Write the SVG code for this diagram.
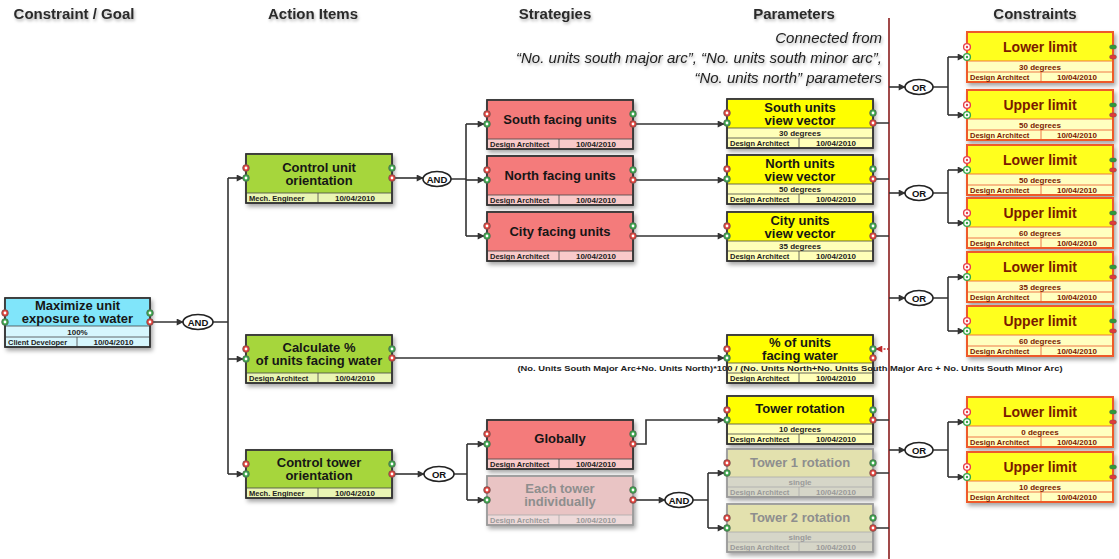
<svg xmlns="http://www.w3.org/2000/svg" xmlns:xlink="http://www.w3.org/1999/xlink" width="1119" height="559" viewBox="0 0 1119 559">
  <defs>
    <style>
      text { font-family: "Liberation Sans", Arial, sans-serif; }
      .hdr { font-size: 15px; font-weight: bold; fill: #2a2a2a; text-anchor: middle; }
      .note { font-size: 15px; font-style: italic; fill: #222; text-anchor: end; }
      .t { font-size: 13px; font-weight: bold; fill: #161616; text-anchor: middle; }
      .tc { font-size: 14px; font-weight: bold; fill: #7a1a00; text-anchor: middle; }
      .v { font-size: 8px; font-weight: bold; fill: #222; text-anchor: middle; }
      .vc { font-size: 8px; font-weight: bold; fill: #7a1a00; text-anchor: middle; }
      .r { font-size: 7.5px; font-weight: bold; fill: #222; }
      .rc { font-size: 7.5px; font-weight: bold; fill: #7a1a00; }
      .d { font-size: 8px; font-weight: bold; fill: #222; text-anchor: middle; }
      .dc { font-size: 8px; font-weight: bold; fill: #7a1a00; text-anchor: middle; }
      .box { stroke: #333; stroke-width: 1.5; }
      .sep { stroke: #444; stroke-width: 0.8; fill: none; }
      .cbox { stroke: #ee5a2a; stroke-width: 2; }
      .csep { stroke: #ee6a3a; stroke-width: 0.9; fill: none; }
      .conn { fill: none; stroke: #333; stroke-width: 1.6; }
      .gate ellipse { fill: #fff; stroke: #222; stroke-width: 1.6; }
      .gate text { font-size: 9.5px; font-weight: bold; fill: #111; text-anchor: middle; }
      .faded .t { fill: #8e8e8e; }
      .faded .r, .faded .d, .faded .v { fill: #9a9a9a; }
      .faded .box { stroke: #9a9a9a; }
      .faded .sep { stroke: #aaa; }
    </style>
    <filter id="sh" x="-10%" y="-10%" width="125%" height="135%">
      <feDropShadow dx="2" dy="3" stdDeviation="2" flood-color="#000" flood-opacity="0.35"/>
    </filter>
    <filter id="tsh" x="-5%" y="-20%" width="110%" height="160%">
      <feDropShadow dx="1" dy="2" stdDeviation="1.5" flood-color="#000" flood-opacity="0.3"/>
    </filter>
    <marker id="ah" viewBox="0 0 10 10" refX="9" refY="5" markerWidth="8" markerHeight="7" markerUnits="userSpaceOnUse" orient="auto">
      <path d="M0,0 L10,5 L0,10 z" fill="#333"/>
    </marker>
    <marker id="ahr" viewBox="0 0 10 10" refX="9" refY="5" markerWidth="8" markerHeight="7" markerUnits="userSpaceOnUse" orient="auto">
      <path d="M0,0 L10,5 L0,10 z" fill="#c0282a"/>
    </marker>
    <g id="pr"><circle r="3.4" fill="#e0403a" stroke="#555" stroke-width="0.6"/><circle r="1.4" fill="#fff"/></g>
    <g id="pg"><circle r="3.4" fill="#3aa64a" stroke="#555" stroke-width="0.6"/><circle r="1.4" fill="#fff"/></g>
    <g id="cpr"><circle r="3.4" fill="#fff" stroke="#e8404a" stroke-width="1.4"/><circle r="1.2" fill="#e8404a"/></g>
    <g id="cpg"><circle r="3.4" fill="#fff" stroke="#3aa64a" stroke-width="1.4"/><circle r="1.2" fill="#3aa64a"/></g>
    <rect id="pillg" x="-3.5" y="-2" width="7" height="4" rx="2" fill="#2e9a3a" stroke="#555" stroke-width="0.4"/>
    <rect id="pillr" x="-3.5" y="-2" width="7" height="4" rx="2" fill="#e03a3a" stroke="#555" stroke-width="0.4"/>
  </defs>

  <rect width="1119" height="559" fill="#fff"/>

  <!-- column headings -->
  <g id="headings" filter="url(#tsh)">
    <text class="hdr" x="74" y="19">Constraint / Goal</text>
    <text class="hdr" x="313" y="19">Action Items</text>
    <text class="hdr" x="555" y="19">Strategies</text>
    <text class="hdr" x="794" y="19">Parameters</text>
    <text class="hdr" x="1035" y="19">Constraints</text>
  </g>

  <g id="note" filter="url(#tsh)">
    <text class="note" x="882" y="43">Connected from</text>
    <text class="note" x="882" y="63">“No. units south major arc”, “No. units south minor arc”,</text>
    <text class="note" x="882" y="83">“No. units north” parameters</text>
  </g>

  <!-- connectors -->
  <g id="connectors">
    <line x1="889" y1="18" x2="889" y2="559" stroke="#8a1c1c" stroke-width="1.6"/>
    <path class="conn" d="M150,322 H183" marker-end="url(#ah)"/>
    <path class="conn" d="M213,322 H228 M228,178 V474"/>
    <path class="conn" d="M228,178 H243" marker-end="url(#ah)"/>
    <path class="conn" d="M228,359 H243" marker-end="url(#ah)"/>
    <path class="conn" d="M228,474 H243" marker-end="url(#ah)"/>
    <path class="conn" d="M392,178 H423" marker-end="url(#ah)"/>
    <path class="conn" d="M451,179 H466 M466,124 V236"/>
    <path class="conn" d="M466,124 H484" marker-end="url(#ah)"/>
    <path class="conn" d="M466,180 H484" marker-end="url(#ah)"/>
    <path class="conn" d="M466,236 H484" marker-end="url(#ah)"/>
    <path class="conn" d="M633,124 H724" marker-end="url(#ah)"/>
    <path class="conn" d="M633,180 H724" marker-end="url(#ah)"/>
    <path class="conn" d="M633,236 H724" marker-end="url(#ah)"/>
    <path class="conn" d="M392,358 H724" marker-end="url(#ah)"/>
    <path class="conn" d="M392,474 H424" marker-end="url(#ah)"/>
    <path class="conn" d="M454,474 H467 M467,444 V500"/>
    <path class="conn" d="M467,444 H484" marker-end="url(#ah)"/>
    <path class="conn" d="M467,500 H484" marker-end="url(#ah)"/>
    <path class="conn" d="M633,444 H646 V420 H724" marker-end="url(#ah)"/>
    <path class="conn" d="M633,500 H665" marker-end="url(#ah)"/>
    <path class="conn" d="M693,500 H708 M708,473 V528"/>
    <path class="conn" d="M708,473 H724" marker-end="url(#ah)"/>
    <path class="conn" d="M708,528 H724" marker-end="url(#ah)"/>
    <path class="conn" d="M873,123 H889 M873,179 H889 M873,236 H889 M873,420 H889"/>
    <path class="conn" d="M873,473 H889 M873,528 H889" stroke="#777"/>
    <path d="M889,349 H876" fill="none" stroke="#c0282a" stroke-width="1.4" stroke-dasharray="2,1.5" marker-end="url(#ahr)"/>
    <path class="conn" d="M889,87 H905" marker-end="url(#ah)"/>
    <path class="conn" d="M889,193 H905" marker-end="url(#ah)"/>
    <path class="conn" d="M889,298 H905" marker-end="url(#ah)"/>
    <path class="conn" d="M889,450 H905" marker-end="url(#ah)"/>
    <path class="conn" d="M933,87 H948 M948,57 V115"/>
    <path class="conn" d="M948,57 H964" marker-end="url(#ah)"/>
    <path class="conn" d="M948,115 H964" marker-end="url(#ah)"/>
    <path class="conn" d="M933,193 H948 M948,170 V223"/>
    <path class="conn" d="M948,170 H964" marker-end="url(#ah)"/>
    <path class="conn" d="M948,223 H964" marker-end="url(#ah)"/>
    <path class="conn" d="M933,298 H948 M948,277 V331"/>
    <path class="conn" d="M948,277 H964" marker-end="url(#ah)"/>
    <path class="conn" d="M948,331 H964" marker-end="url(#ah)"/>
    <path class="conn" d="M933,450 H948 M948,422 V477"/>
    <path class="conn" d="M948,422 H964" marker-end="url(#ah)"/>
    <path class="conn" d="M948,477 H964" marker-end="url(#ah)"/>
  </g>

  <!-- logic gates -->
  <g id="gate-and-goal" class="gate"><ellipse cx="198" cy="322" rx="15" ry="7.5"/><text x="198" y="325.5">AND</text></g>
  <g id="gate-and-unit" class="gate"><ellipse cx="437" cy="179" rx="14" ry="7.5"/><text x="437" y="182.5">AND</text></g>
  <g id="gate-or-tower" class="gate"><ellipse cx="439" cy="474" rx="15" ry="7.5"/><text x="439" y="477.5">OR</text></g>
  <g id="gate-and-each" class="gate"><ellipse cx="679" cy="500" rx="14" ry="7.5"/><text x="679" y="503.5">AND</text></g>
  <g id="gate-or-1" class="gate"><ellipse cx="919" cy="87" rx="14" ry="7.5"/><text x="919" y="90.5">OR</text></g>
  <g id="gate-or-2" class="gate"><ellipse cx="919" cy="193" rx="14" ry="7.5"/><text x="919" y="196.5">OR</text></g>
  <g id="gate-or-3" class="gate"><ellipse cx="919" cy="298" rx="14" ry="7.5"/><text x="919" y="301.5">OR</text></g>
  <g id="gate-or-4" class="gate"><ellipse cx="919" cy="450" rx="14" ry="7.5"/><text x="919" y="453.5">OR</text></g>

  <!-- goal -->
  <g id="goal-maximize-exposure">
    <rect class="box" x="5" y="298" width="145" height="49" fill="#d6f6fd" filter="url(#sh)"/>
    <rect x="5.8" y="298.8" width="143.4" height="27.2" fill="#80e5fa"/>
    <path class="sep" d="M5,326 H150 M5,337 H150 M77,337 V347"/>
    <rect class="box" x="5" y="298" width="145" height="49" fill="none"/>
    <text class="t" x="77.5" y="310">Maximize unit</text>
    <text class="t" x="77.5" y="323">exposure to water</text>
    <text class="v" x="77.5" y="334.5">100%</text>
    <text class="r" x="8" y="345">Client Developer</text>
    <text class="d" x="113.5" y="345">10/04/2010</text>
    <use href="#pr" x="5" y="313"/><use href="#pg" x="5" y="322"/>
    <use href="#pg" x="150" y="313"/><use href="#pr" x="150" y="322"/>
  </g>

  <!-- action items -->
  <g id="action-control-unit-orientation">
    <rect class="box" x="246" y="154" width="146" height="49" fill="#eaf5b4" filter="url(#sh)"/>
    <rect x="246.8" y="154.8" width="144.4" height="38.2" fill="#a6d63c"/>
    <path class="sep" d="M246,193 H392 M318,193 V203"/>
    <rect class="box" x="246" y="154" width="146" height="49" fill="none"/>
    <text class="t" x="319" y="172">Control unit</text>
    <text class="t" x="319" y="185">orientation</text>
    <text class="r" x="249" y="201">Mech. Engineer</text>
    <text class="d" x="355" y="201">10/04/2010</text>
    <use href="#pr" x="246" y="168"/><use href="#pg" x="246" y="178"/>
    <use href="#pg" x="392" y="168"/><use href="#pr" x="392" y="178"/>
  </g>

  <g id="action-calculate-facing-water">
    <rect class="box" x="246" y="335" width="146" height="48" fill="#eaf5b4" filter="url(#sh)"/>
    <rect x="246.8" y="335.8" width="144.4" height="37.2" fill="#a6d63c"/>
    <path class="sep" d="M246,373 H392 M318,373 V383"/>
    <rect class="box" x="246" y="335" width="146" height="48" fill="none"/>
    <text class="t" x="319" y="352">Calculate %</text>
    <text class="t" x="319" y="365">of units facing water</text>
    <text class="r" x="249" y="381">Design Architect</text>
    <text class="d" x="355" y="381">10/04/2010</text>
    <use href="#pr" x="246" y="349"/><use href="#pg" x="246" y="359"/>
    <use href="#pg" x="392" y="349"/><use href="#pr" x="392" y="358"/>
  </g>

  <g id="action-control-tower-orientation">
    <rect class="box" x="246" y="450" width="146" height="48" fill="#eaf5b4" filter="url(#sh)"/>
    <rect x="246.8" y="450.8" width="144.4" height="37.2" fill="#a6d63c"/>
    <path class="sep" d="M246,488 H392 M318,488 V498"/>
    <rect class="box" x="246" y="450" width="146" height="48" fill="none"/>
    <text class="t" x="319" y="467">Control tower</text>
    <text class="t" x="319" y="480">orientation</text>
    <text class="r" x="249" y="496">Mech. Engineer</text>
    <text class="d" x="355" y="496">10/04/2010</text>
    <use href="#pr" x="246" y="464"/><use href="#pg" x="246" y="474"/>
    <use href="#pg" x="392" y="464"/><use href="#pr" x="392" y="474"/>
  </g>

  <!-- strategies -->
  <g id="strategy-south-facing">
    <rect class="box" x="487" y="100" width="146" height="49" fill="#f9caca" filter="url(#sh)"/>
    <rect x="487.8" y="100.8" width="144.4" height="38.2" fill="#f47b7b"/>
    <path class="sep" d="M487,139 H633 M559,139 V149"/>
    <rect class="box" x="487" y="100" width="146" height="49" fill="none"/>
    <text class="t" x="560" y="124">South facing units</text>
    <text class="r" x="490" y="147">Design Architect</text>
    <text class="d" x="596" y="147">10/04/2010</text>
    <use href="#pr" x="487" y="114"/><use href="#pg" x="487" y="124"/>
    <use href="#pg" x="633" y="114"/><use href="#pr" x="633" y="124"/>
  </g>

  <g id="strategy-north-facing">
    <rect class="box" x="487" y="156" width="146" height="49" fill="#f9caca" filter="url(#sh)"/>
    <rect x="487.8" y="156.8" width="144.4" height="38.2" fill="#f47b7b"/>
    <path class="sep" d="M487,195 H633 M559,195 V205"/>
    <rect class="box" x="487" y="156" width="146" height="49" fill="none"/>
    <text class="t" x="560" y="180">North facing units</text>
    <text class="r" x="490" y="203">Design Architect</text>
    <text class="d" x="596" y="203">10/04/2010</text>
    <use href="#pr" x="487" y="170"/><use href="#pg" x="487" y="180"/>
    <use href="#pg" x="633" y="170"/><use href="#pr" x="633" y="180"/>
  </g>

  <g id="strategy-city-facing">
    <rect class="box" x="487" y="212" width="146" height="49" fill="#f9caca" filter="url(#sh)"/>
    <rect x="487.8" y="212.8" width="144.4" height="38.2" fill="#f47b7b"/>
    <path class="sep" d="M487,251 H633 M559,251 V261"/>
    <rect class="box" x="487" y="212" width="146" height="49" fill="none"/>
    <text class="t" x="560" y="236">City facing units</text>
    <text class="r" x="490" y="259">Design Architect</text>
    <text class="d" x="596" y="259">10/04/2010</text>
    <use href="#pr" x="487" y="226"/><use href="#pg" x="487" y="236"/>
    <use href="#pg" x="633" y="226"/><use href="#pr" x="633" y="236"/>
  </g>

  <g id="strategy-globally">
    <rect class="box" x="487" y="420" width="146" height="49" fill="#f9caca" filter="url(#sh)"/>
    <rect x="487.8" y="420.8" width="144.4" height="38.2" fill="#f47b7b"/>
    <path class="sep" d="M487,459 H633 M559,459 V469"/>
    <rect class="box" x="487" y="420" width="146" height="49" fill="none"/>
    <text class="t" x="560" y="443">Globally</text>
    <text class="r" x="490" y="467">Design Architect</text>
    <text class="d" x="596" y="467">10/04/2010</text>
    <use href="#pr" x="487" y="434"/><use href="#pg" x="487" y="444"/>
    <use href="#pg" x="633" y="434"/><use href="#pr" x="633" y="444"/>
  </g>

  <g id="strategy-each-tower" class="faded">
    <rect class="box" x="487" y="476" width="146" height="49" fill="#eedada" filter="url(#sh)"/>
    <rect x="487.8" y="476.8" width="144.4" height="38.2" fill="#e9c4c4"/>
    <path class="sep" d="M487,515 H633 M559,515 V525"/>
    <rect class="box" x="487" y="476" width="146" height="49" fill="none"/>
    <text class="t" x="560" y="493">Each tower</text>
    <text class="t" x="560" y="506">individually</text>
    <text class="r" x="490" y="523">Design Architect</text>
    <text class="d" x="596" y="523">10/04/2010</text>
    <use href="#pr" x="487" y="490"/><use href="#pg" x="487" y="500"/>
    <use href="#pg" x="633" y="490"/><use href="#pr" x="633" y="500"/>
  </g>

  <!-- parameters -->
  <g id="param-south-view">
    <rect class="box" x="727" y="99" width="146" height="49" fill="#ffffb8" filter="url(#sh)"/>
    <rect x="727.8" y="99.8" width="144.4" height="28.2" fill="#ffff00"/>
    <path class="sep" d="M727,128 H873 M727,138 H873 M799,138 V148"/>
    <rect class="box" x="727" y="99" width="146" height="49" fill="none"/>
    <text class="t" x="800" y="112">South units</text>
    <text class="t" x="800" y="125">view vector</text>
    <text class="v" x="800" y="136">30 degrees</text>
    <text class="r" x="730" y="146">Design Architect</text>
    <text class="d" x="836" y="146">10/04/2010</text>
    <use href="#pr" x="727" y="113"/><use href="#pg" x="727" y="123"/>
    <use href="#pg" x="873" y="113"/><use href="#pr" x="873" y="123"/>
  </g>

  <g id="param-north-view">
    <rect class="box" x="727" y="155" width="146" height="49" fill="#ffffb8" filter="url(#sh)"/>
    <rect x="727.8" y="155.8" width="144.4" height="28.2" fill="#ffff00"/>
    <path class="sep" d="M727,184 H873 M727,194 H873 M799,194 V204"/>
    <rect class="box" x="727" y="155" width="146" height="49" fill="none"/>
    <text class="t" x="800" y="168">North units</text>
    <text class="t" x="800" y="181">view vector</text>
    <text class="v" x="800" y="192">50 degrees</text>
    <text class="r" x="730" y="202">Design Architect</text>
    <text class="d" x="836" y="202">10/04/2010</text>
    <use href="#pr" x="727" y="169"/><use href="#pg" x="727" y="179"/>
    <use href="#pg" x="873" y="169"/><use href="#pr" x="873" y="179"/>
  </g>

  <g id="param-city-view">
    <rect class="box" x="727" y="212" width="146" height="49" fill="#ffffb8" filter="url(#sh)"/>
    <rect x="727.8" y="212.8" width="144.4" height="28.2" fill="#ffff00"/>
    <path class="sep" d="M727,241 H873 M727,251 H873 M799,251 V261"/>
    <rect class="box" x="727" y="212" width="146" height="49" fill="none"/>
    <text class="t" x="800" y="225">City units</text>
    <text class="t" x="800" y="238">view vector</text>
    <text class="v" x="800" y="249">35 degrees</text>
    <text class="r" x="730" y="259">Design Architect</text>
    <text class="d" x="836" y="259">10/04/2010</text>
    <use href="#pr" x="727" y="226"/><use href="#pg" x="727" y="236"/>
    <use href="#pg" x="873" y="226"/><use href="#pr" x="873" y="236"/>
  </g>

  <g id="param-percent-facing-water">
    <rect class="box" x="727" y="335" width="146" height="48" fill="#ffffb8" filter="url(#sh)"/>
    <rect x="727.8" y="335.8" width="144.4" height="27.2" fill="#ffff00"/>
    <path class="sep" d="M727,363 H873 M727,373 H873 M799,373 V383"/>
    <rect class="box" x="727" y="335" width="146" height="48" fill="none"/>
    <text class="t" x="800" y="346.5">% of units</text>
    <text class="t" x="800" y="359.5">facing water</text>
    <text class="r" x="730" y="381">Design Architect</text>
    <text class="d" x="836" y="381">10/04/2010</text>
    <use href="#pr" x="727" y="349"/><use href="#pg" x="727" y="358"/>
    <use href="#pg" x="873" y="349"/><use href="#pr" x="873" y="358"/>
    <text class="v" x="790" y="370.5" textLength="545" lengthAdjust="spacingAndGlyphs">(No. Units South Major Arc+No. Units North)*100 / (No. Units North+No. Units South Major Arc + No. Units South Minor Arc)</text>
  </g>

  <g id="param-tower-rotation">
    <rect class="box" x="727" y="396" width="146" height="48" fill="#ffffb8" filter="url(#sh)"/>
    <rect x="727.8" y="396.8" width="144.4" height="27.2" fill="#ffff00"/>
    <path class="sep" d="M727,424 H873 M727,434 H873 M799,434 V444"/>
    <rect class="box" x="727" y="396" width="146" height="48" fill="none"/>
    <text class="t" x="800" y="413">Tower rotation</text>
    <text class="v" x="800" y="432">10 degrees</text>
    <text class="r" x="730" y="442">Design Architect</text>
    <text class="d" x="836" y="442">10/04/2010</text>
    <use href="#pr" x="727" y="410"/><use href="#pg" x="727" y="420"/>
    <use href="#pg" x="873" y="410"/><use href="#pr" x="873" y="420"/>
  </g>

  <g id="param-tower-1-rotation" class="faded">
    <rect class="box" x="727" y="449" width="146" height="48" fill="#d6d6c8" filter="url(#sh)"/>
    <rect x="727.8" y="449.8" width="144.4" height="27.2" fill="#e3e1ae"/>
    <path class="sep" d="M727,477 H873 M727,487 H873 M799,487 V497"/>
    <rect class="box" x="727" y="449" width="146" height="48" fill="none"/>
    <text class="t" x="800" y="467">Tower 1 rotation</text>
    <text class="v" x="800" y="485">single</text>
    <text class="r" x="730" y="495">Design Architect</text>
    <text class="d" x="836" y="495">10/04/2010</text>
    <use href="#pr" x="727" y="463"/><use href="#pg" x="727" y="473"/>
    <use href="#pg" x="873" y="463"/><use href="#pr" x="873" y="473"/>
  </g>

  <g id="param-tower-2-rotation" class="faded">
    <rect class="box" x="727" y="504" width="146" height="48" fill="#d6d6c8" filter="url(#sh)"/>
    <rect x="727.8" y="504.8" width="144.4" height="27.2" fill="#e3e1ae"/>
    <path class="sep" d="M727,532 H873 M727,542 H873 M799,542 V552"/>
    <rect class="box" x="727" y="504" width="146" height="48" fill="none"/>
    <text class="t" x="800" y="522">Tower 2 rotation</text>
    <text class="v" x="800" y="540">single</text>
    <text class="r" x="730" y="550">Design Architect</text>
    <text class="d" x="836" y="550">10/04/2010</text>
    <use href="#pr" x="727" y="518"/><use href="#pg" x="727" y="528"/>
    <use href="#pg" x="873" y="518"/><use href="#pr" x="873" y="528"/>
  </g>

  <!-- constraints -->
  <g id="constraint-south-lower">
    <rect class="cbox" x="967" y="32" width="146" height="50" fill="#ffffc0" filter="url(#sh)"/>
    <rect x="968" y="33" width="144" height="28" fill="#ffff1e"/>
    <path class="csep" d="M967,61 H1113 M967,72 H1113 M1041,72 V82"/>
    <rect class="cbox" x="967" y="32" width="146" height="50" fill="none"/>
    <text class="tc" x="1040" y="52">Lower limit</text>
    <text class="vc" x="1040" y="69.5">30 degrees</text>
    <text class="rc" x="970" y="80">Design Architect</text>
    <text class="dc" x="1077" y="80">10/04/2010</text>
    <use href="#cpr" x="967" y="47"/><use href="#cpg" x="967" y="57"/>
    <use href="#pillg" x="1113" y="47"/><use href="#pillr" x="1113" y="57"/>
  </g>

  <g id="constraint-south-upper">
    <rect class="cbox" x="967" y="90" width="146" height="50" fill="#ffffc0" filter="url(#sh)"/>
    <rect x="968" y="91" width="144" height="28" fill="#ffff1e"/>
    <path class="csep" d="M967,119 H1113 M967,130 H1113 M1041,130 V140"/>
    <rect class="cbox" x="967" y="90" width="146" height="50" fill="none"/>
    <text class="tc" x="1040" y="110">Upper limit</text>
    <text class="vc" x="1040" y="127.5">50 degrees</text>
    <text class="rc" x="970" y="138">Design Architect</text>
    <text class="dc" x="1077" y="138">10/04/2010</text>
    <use href="#cpr" x="967" y="105"/><use href="#cpg" x="967" y="115"/>
    <use href="#pillg" x="1113" y="105"/><use href="#pillr" x="1113" y="115"/>
  </g>

  <g id="constraint-north-lower">
    <rect class="cbox" x="967" y="145" width="146" height="50" fill="#ffffc0" filter="url(#sh)"/>
    <rect x="968" y="146" width="144" height="28" fill="#ffff1e"/>
    <path class="csep" d="M967,174 H1113 M967,185 H1113 M1041,185 V195"/>
    <rect class="cbox" x="967" y="145" width="146" height="50" fill="none"/>
    <text class="tc" x="1040" y="165">Lower limit</text>
    <text class="vc" x="1040" y="182.5">50 degrees</text>
    <text class="rc" x="970" y="193">Design Architect</text>
    <text class="dc" x="1077" y="193">10/04/2010</text>
    <use href="#cpr" x="967" y="160"/><use href="#cpg" x="967" y="170"/>
    <use href="#pillg" x="1113" y="160"/><use href="#pillr" x="1113" y="170"/>
  </g>

  <g id="constraint-north-upper">
    <rect class="cbox" x="967" y="198" width="146" height="50" fill="#ffffc0" filter="url(#sh)"/>
    <rect x="968" y="199" width="144" height="28" fill="#ffff1e"/>
    <path class="csep" d="M967,227 H1113 M967,238 H1113 M1041,238 V248"/>
    <rect class="cbox" x="967" y="198" width="146" height="50" fill="none"/>
    <text class="tc" x="1040" y="218">Upper limit</text>
    <text class="vc" x="1040" y="235.5">60 degrees</text>
    <text class="rc" x="970" y="246">Design Architect</text>
    <text class="dc" x="1077" y="246">10/04/2010</text>
    <use href="#cpr" x="967" y="213"/><use href="#cpg" x="967" y="223"/>
    <use href="#pillg" x="1113" y="213"/><use href="#pillr" x="1113" y="223"/>
  </g>

  <g id="constraint-city-lower">
    <rect class="cbox" x="967" y="252" width="146" height="50" fill="#ffffc0" filter="url(#sh)"/>
    <rect x="968" y="253" width="144" height="28" fill="#ffff1e"/>
    <path class="csep" d="M967,281 H1113 M967,292 H1113 M1041,292 V302"/>
    <rect class="cbox" x="967" y="252" width="146" height="50" fill="none"/>
    <text class="tc" x="1040" y="272">Lower limit</text>
    <text class="vc" x="1040" y="289.5">35 degrees</text>
    <text class="rc" x="970" y="300">Design Architect</text>
    <text class="dc" x="1077" y="300">10/04/2010</text>
    <use href="#cpr" x="967" y="267"/><use href="#cpg" x="967" y="277"/>
    <use href="#pillg" x="1113" y="267"/><use href="#pillr" x="1113" y="277"/>
  </g>

  <g id="constraint-city-upper">
    <rect class="cbox" x="967" y="306" width="146" height="50" fill="#ffffc0" filter="url(#sh)"/>
    <rect x="968" y="307" width="144" height="28" fill="#ffff1e"/>
    <path class="csep" d="M967,335 H1113 M967,346 H1113 M1041,346 V356"/>
    <rect class="cbox" x="967" y="306" width="146" height="50" fill="none"/>
    <text class="tc" x="1040" y="326">Upper limit</text>
    <text class="vc" x="1040" y="343.5">60 degrees</text>
    <text class="rc" x="970" y="354">Design Architect</text>
    <text class="dc" x="1077" y="354">10/04/2010</text>
    <use href="#cpr" x="967" y="321"/><use href="#cpg" x="967" y="331"/>
    <use href="#pillg" x="1113" y="321"/><use href="#pillr" x="1113" y="331"/>
  </g>

  <g id="constraint-tower-lower">
    <rect class="cbox" x="967" y="397" width="146" height="50" fill="#ffffc0" filter="url(#sh)"/>
    <rect x="968" y="398" width="144" height="28" fill="#ffff1e"/>
    <path class="csep" d="M967,426 H1113 M967,437 H1113 M1041,437 V447"/>
    <rect class="cbox" x="967" y="397" width="146" height="50" fill="none"/>
    <text class="tc" x="1040" y="417">Lower limit</text>
    <text class="vc" x="1040" y="434.5">0 degrees</text>
    <text class="rc" x="970" y="445">Design Architect</text>
    <text class="dc" x="1077" y="445">10/04/2010</text>
    <use href="#cpr" x="967" y="412"/><use href="#cpg" x="967" y="422"/>
    <use href="#pillg" x="1113" y="412"/><use href="#pillr" x="1113" y="422"/>
  </g>

  <g id="constraint-tower-upper">
    <rect class="cbox" x="967" y="452" width="146" height="50" fill="#ffffc0" filter="url(#sh)"/>
    <rect x="968" y="453" width="144" height="28" fill="#ffff1e"/>
    <path class="csep" d="M967,481 H1113 M967,492 H1113 M1041,492 V502"/>
    <rect class="cbox" x="967" y="452" width="146" height="50" fill="none"/>
    <text class="tc" x="1040" y="472">Upper limit</text>
    <text class="vc" x="1040" y="489.5">10 degrees</text>
    <text class="rc" x="970" y="500">Design Architect</text>
    <text class="dc" x="1077" y="500">10/04/2010</text>
    <use href="#cpr" x="967" y="467"/><use href="#cpg" x="967" y="477"/>
    <use href="#pillg" x="1113" y="467"/><use href="#pillr" x="1113" y="477"/>
  </g>
</svg>
